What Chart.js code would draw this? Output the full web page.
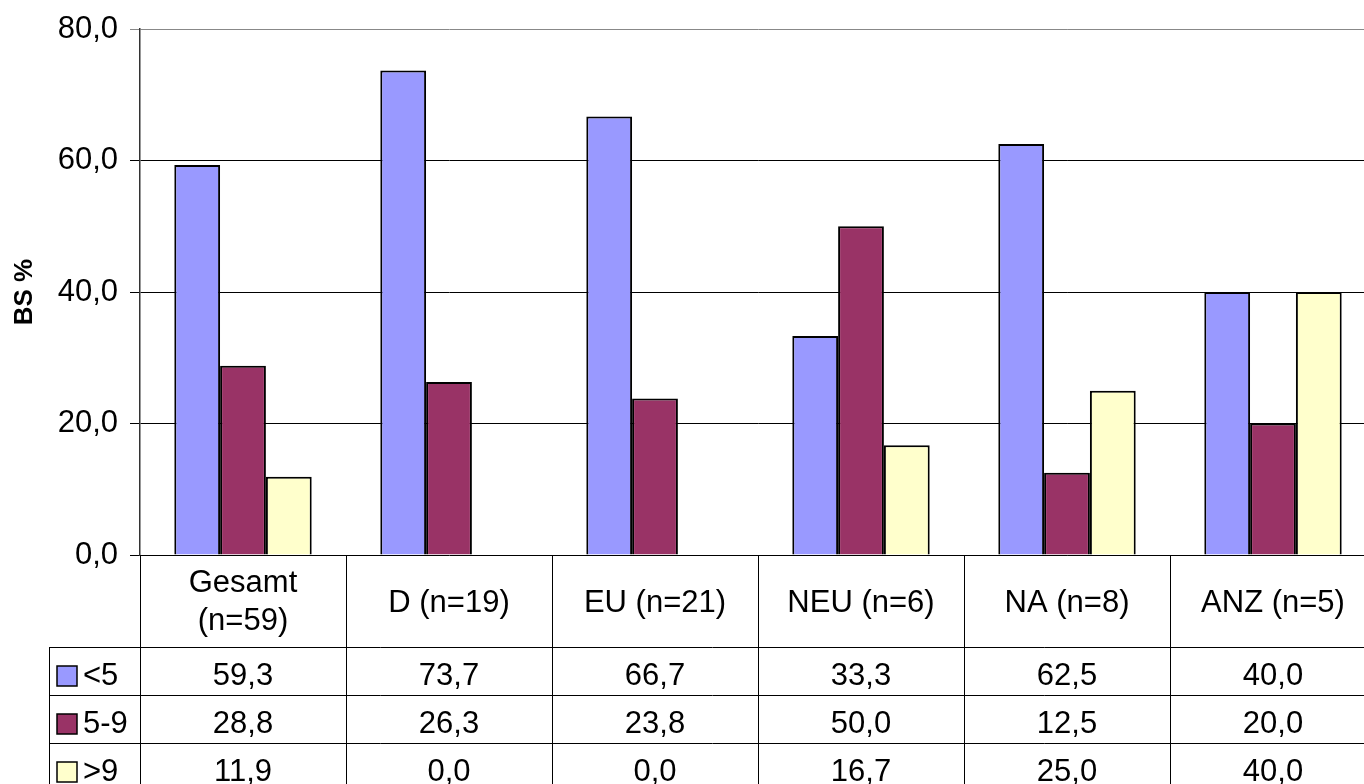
<!DOCTYPE html>
<html>
<head>
<meta charset="utf-8">
<script src="https://cdn.jsdelivr.net/npm/chart.js@4"></script>
<style>
    html, body { margin: 0; padding: 0; background: #fff; overflow: hidden; }
    .wrap { width: 1364px; height: 784px; overflow: hidden; }
</style>
</head>
<body>
<div class="wrap">
    <canvas id="bsChart" width="1376" height="784"></canvas>
</div>
<script>
// categories (header lines of the data table)
const categories = [
    ["Gesamt", "(n=59)"],
    ["D (n=19)"],
    ["EU (n=21)"],
    ["NEU (n=6)"],
    ["NA (n=8)"],
    ["ANZ (n=5)"]
];

const seriesNames = ["<5", "5-9", ">9"];
const seriesColours = ["#9999ff", "#993366", "#ffffcc"];

const under5 = [59.3, 73.7, 66.7, 33.3, 62.5, 40.0];
const from5to9 = [28.8, 26.3, 23.8, 50.0, 12.5, 20.0];
const over9 = [11.9, 0.0, 0.0, 16.7, 25.0, 40.0];

const yTicks = [0, 20, 40, 60, 80];

const fontFamily = "'Liberation Sans', Arial, sans-serif";
const allSeries = [under5, from5to9, over9];

function fmt(v) {
    return v.toFixed(1).replace(".", ",");
}

// draws the data table below the plot, columns follow the x scale
const dataTable = {
    id: "dataTable",
    afterDraw(chart) {
        const ctx = chart.ctx;
        const x = chart.scales.x;
        const area = chart.chartArea;
        const colW = x.width / categories.length;
        const headTop = area.bottom;
        const headBottom = headTop + 92;
        const rowH = 48;
        const tableBottom = headBottom + rowH * allSeries.length;
        const tableLeft = 49;

        ctx.save();
        ctx.strokeStyle = "#000";
        ctx.lineWidth = 1;

        // vertical lines
        for (let i = 0; i <= categories.length; i++) {
            const px = Math.round(x.left + i * colW) + 0.5;
            ctx.beginPath();
            ctx.moveTo(px, headTop);
            ctx.lineTo(px, tableBottom);
            ctx.stroke();
        }
        ctx.beginPath();
        ctx.moveTo(tableLeft + 0.5, headBottom);
        ctx.lineTo(tableLeft + 0.5, tableBottom);
        ctx.stroke();

        // horizontal lines
        for (let r = 0; r <= allSeries.length; r++) {
            const py = Math.round(headBottom + r * rowH) + 0.5;
            ctx.beginPath();
            ctx.moveTo(tableLeft, py);
            ctx.lineTo(area.right, py);
            ctx.stroke();
        }

        ctx.fillStyle = "#000";
        ctx.font = "31px " + fontFamily;
        ctx.textAlign = "center";
        ctx.textBaseline = "alphabetic";

        // header text
        categories.forEach((lines, i) => {
            const cx = x.getPixelForValue(i);
            if (lines.length === 2) {
                ctx.fillText(lines[0], cx, headTop + 37);
                ctx.fillText(lines[1], cx, headTop + 75);
            } else {
                ctx.fillText(lines[0], cx, headTop + 57);
            }
        });

        // value rows
        allSeries.forEach((vals, r) => {
            const rowTop = headBottom + r * rowH;
            vals.forEach((v, i) => {
                ctx.fillText(fmt(v), x.getPixelForValue(i), rowTop + 38);
            });
            // legend key
            ctx.fillStyle = seriesColours[r];
            ctx.fillRect(57, rowTop + 19, 20, 20);
            ctx.lineWidth = 1.5;
            ctx.strokeRect(57, rowTop + 19, 20, 20);
            ctx.lineWidth = 1;
            ctx.fillStyle = "#000";
            ctx.textAlign = "left";
            ctx.fillText(seriesNames[r], 83, rowTop + 38);
            ctx.textAlign = "center";
        });

        ctx.restore();
    }
};

new Chart(document.getElementById("bsChart"), {
    type: "bar",
    data: {
        labels: categories.map(c => c.join(" ")),
        datasets: allSeries.map((vals, r) => ({
            label: seriesNames[r],
            data: vals,
            backgroundColor: seriesColours[r],
            borderColor: "#000",
            borderWidth: 2,
            categoryPercentage: 0.667,
            barPercentage: 1.0
        }))
    },
    options: {
        responsive: false,
        animation: false,
        devicePixelRatio: 1,
        layout: {
            padding: { top: 29, bottom: 229, left: 0, right: 0 }
        },
        plugins: {
            legend: { display: false },
            tooltip: { enabled: false }
        },
        scales: {
            x: {
                display: false
            },
            y: {
                min: 0,
                max: 80,
                afterFit: s => { s.width = 140; },
                afterBuildTicks: s => { s.ticks = yTicks.map(v => ({ value: v })); },
                ticks: {
                    color: "#000",
                    padding: 12,
                    font: { family: fontFamily, size: 31, lineHeight: 0.9 },
                    callback: v => fmt(v)
                },
                grid: {
                    color: c => (c.tick && c.tick.value === 80 ? "#888" : "#000"),
                    lineWidth: 1,
                    tickLength: 10,
                    drawTicks: true
                },
                border: { display: true, color: "#333", width: 1.5 },
                title: {
                    display: true,
                    text: "BS %",
                    color: "#000",
                    font: { family: fontFamily, size: 26, weight: "bold" },
                    padding: { top: 9, bottom: 0 }
                }
            }
        }
    },
    plugins: [dataTable]
});
</script>
</body>
</html>
